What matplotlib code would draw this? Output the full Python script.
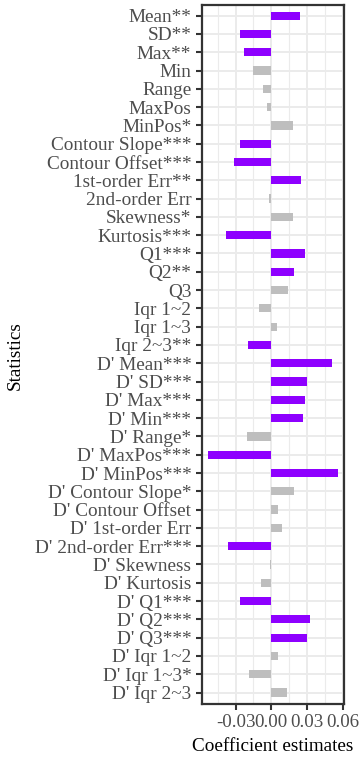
import matplotlib
matplotlib.use("Agg")
import matplotlib.pyplot as plt
import numpy as np

names = ["Mean", "SD", "Max", "Min", "Range", "MaxPos", "MinPos",
         "Contour Slope", "Contour Offset", "1st-order Err", "2nd-order Err",
         "Skewness", "Kurtosis", "Q1", "Q2", "Q3", "Iqr 1~2", "Iqr 1~3", "Iqr 2~3",
         "D' Mean", "D' SD", "D' Max", "D' Min", "D' Range", "D' MaxPos", "D' MinPos",
         "D' Contour Slope", "D' Contour Offset", "D' 1st-order Err", "D' 2nd-order Err",
         "D' Skewness", "D' Kurtosis", "D' Q1", "D' Q2", "D' Q3",
         "D' Iqr 1~2", "D' Iqr 1~3", "D' Iqr 2~3"]
stars = ["**", "**", "**", "", "", "", "*",
         "***", "***", "**", "",
         "*", "***", "***", "**", "", "", "", "**",
         "***", "***", "***", "***", "*", "***", "***",
         "*", "", "", "***",
         "", "", "***", "***", "***",
         "", "*", ""]
estimates = [0.0241, -0.0261, -0.0227, -0.0151, -0.0067, -0.0034, 0.0179,
             -0.0261, -0.0314, 0.0250, -0.0022,
             0.0179, -0.0378, 0.0286, 0.0193, 0.0140, -0.0101, 0.0050, -0.0193,
             0.0507, 0.0303, 0.0286, 0.0269, -0.0202, -0.0530, 0.0561,
             0.0191, 0.0056, 0.0087, -0.0362,
             -0.0011, -0.0087, -0.0264, 0.0322, 0.0303,
             0.0056, -0.0185, 0.0132]
x_ticks = [-0.03, 0.00, 0.03, 0.06]
x_tick_labels = ["-0.03", "0.00", "0.03", "0.06"]

labels = [n + s for n, s in zip(names, stars)]
colors = ["#8E00FF" if len(s) >= 2 else "#BEBEBE" for s in stars]

plt.rcParams['font.family'] = ['Liberation Serif', 'DejaVu Serif']

fig = plt.figure(figsize=(3.61, 7.61), dpi=100)
ax = fig.add_axes([201.7/361, 1 - 703.5/761, (344.3-201.7)/361, (703.5-4.7)/761])

n = len(labels)
y = np.arange(n)
ax.barh(y, estimates, height=0.45, color=colors, zorder=3)

ax.set_ylim(n - 1 + 0.6, -0.6)
ax.set_xlim(-0.0585, 0.0613)
ax.set_yticks(y)
ax.set_yticklabels(labels, fontsize=13.9, color="#4D4D4D")
ax.set_xticks(x_ticks)
ax.set_xticklabels(x_tick_labels, fontsize=13.6, color="#4D4D4D")
ax.set_xticks([-0.045, -0.015, 0.015, 0.045], minor=True)

ax.grid(True, which="major", color="#EBEBEB", linewidth=1.4, zorder=0)
ax.grid(True, which="minor", axis="x", color="#EBEBEB", linewidth=0.8, zorder=0)
ax.set_axisbelow(True)
ax.tick_params(axis="y", which="major", length=4, width=1.5, color="#333333", pad=3.5)
ax.tick_params(axis="x", which="major", length=4, width=1.5, color="#333333", pad=3.5)
ax.tick_params(axis="x", which="minor", length=0)
for sp in ax.spines.values():
    sp.set_color("#333333")
    sp.set_linewidth(1.6)

ax.set_xlabel("Coefficient estimates", fontsize=13.8, color="black", labelpad=5)
fig.text(15/361, 1 - 356/761, "Statistics", rotation=90, ha="center", va="center",
         fontsize=13.8, color="black")

fig.savefig("out.png", dpi=100)
